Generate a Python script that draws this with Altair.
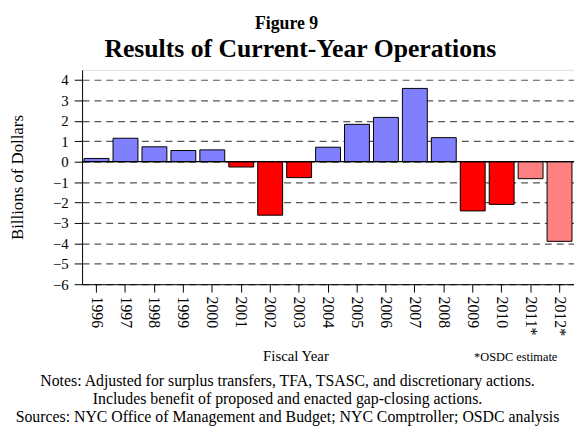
import altair as alt
import pandas as pd

years = ["1996", "1997", "1998", "1999", "2000", "2001", "2002", "2003", "2004",
         "2005", "2006", "2007", "2008", "2009", "2010", "2011*", "2012*"]
values = [0.16, 1.15, 0.73, 0.55, 0.58, -0.26, -2.62, -0.78, 0.71,
          1.83, 2.17, 3.59, 1.18, -2.41, -2.09, -0.83, -3.90]
estimate = [False] * 15 + [True, True]
y_ticks = [-6, -5, -4, -3, -2, -1, 0, 1, 2, 3, 4]

kind = []
for v, e in zip(values, estimate):
    if e:
        kind.append("est")
    elif v >= 0:
        kind.append("pos")
    else:
        kind.append("neg")

df = pd.DataFrame({"year": years, "value": values, "kind": kind})

FONT = "Times New Roman, Liberation Serif, serif"

x_enc = alt.X("year:N", sort=years, title="Fiscal Year",
              scale=alt.Scale(paddingInner=0.14, paddingOuter=0.07),
              axis=alt.Axis(labelAngle=90, labelAlign="left", labelBaseline="middle",
                            labelFont=FONT, labelFontSize=16, labelColor="black",
                            labelPadding=4, tickSize=8, tickColor="black",
                            labelOverlap=False,
                            domainColor="black", titleFont=FONT, titleFontSize=15,
                            titleFontWeight="normal", titleColor="black",
                            titleX=216, titleY=77, titleBaseline="alphabetic"))

bars = alt.Chart(df).mark_bar(stroke="black", strokeWidth=1).encode(
    x=x_enc,
    y=alt.Y("value:Q", title="Billions of Dollars",
            scale=alt.Scale(domain=[-6, 4.5], nice=False, zero=False),
            axis=alt.Axis(values=y_ticks, labelFont=FONT, labelFontSize=15,
                          labelColor="black", labelPadding=6, tickSize=8,
                          labelOverlap=False, tickCount=11,
                          tickColor="black", domainColor="black",
                          grid=True, gridDash=[7, 5], gridColor="#555555",
                          gridWidth=1.2,
                          titleFont=FONT, titleFontSize=17, titleFontWeight="normal",
                          titleColor="black", titlePadding=26)),
    color=alt.Color("kind:N", legend=None,
                    scale=alt.Scale(domain=["pos", "neg", "est"],
                                    range=["#8080FF", "#FF0000", "#FF8080"])),
)

zero = alt.Chart(pd.DataFrame({"z": [0]})).mark_rule(color="black", strokeWidth=1.2).encode(
    y=alt.Y("z:Q", scale=alt.Scale(domain=[-6, 4.5], nice=False, zero=False))
)

texts = pd.DataFrame({
    "t": ["Figure 9", "Results of Current-Year Operations", "*OSDC estimate",
          "Notes: Adjusted for surplus transfers, TFA, TSASC, and discretionary actions.",
          "Includes benefit of proposed and enacted gap-closing actions.",
          "Sources: NYC Office of Management and Budget; NYC Comptroller; OSDC analysis"],
    "px": [207, 221, 439, 208, 208, 208],
    "py": [-41, -13, 295, 320, 338, 357],
    "size": [18, 26, 12.5, 16, 16, 16],
    "w": ["bold", "bold", "normal", "normal", "normal", "normal"],
})

def txt(i):
    r = texts.iloc[i]
    return alt.Chart(texts.iloc[[i]]).mark_text(
        font=FONT, fontSize=float(r["size"]), fontWeight=r["w"], color="black",
        align="center", baseline="alphabetic").encode(
        text="t:N", x=alt.value(float(r["px"])), y=alt.value(float(r["py"])))

layers = [bars, zero] + [txt(i) for i in range(len(texts))]

chart = alt.layer(*layers).properties(
    width=498, height=217,
    autosize=alt.AutoSizeParams(type="none"),
    padding={"left": 75, "top": 60, "right": 0, "bottom": 146},
).configure_view(stroke="#555555", strokeWidth=1.2).configure(background="white")

chart.save("out.html", embed_options={"renderer": "svg", "actions": False})
